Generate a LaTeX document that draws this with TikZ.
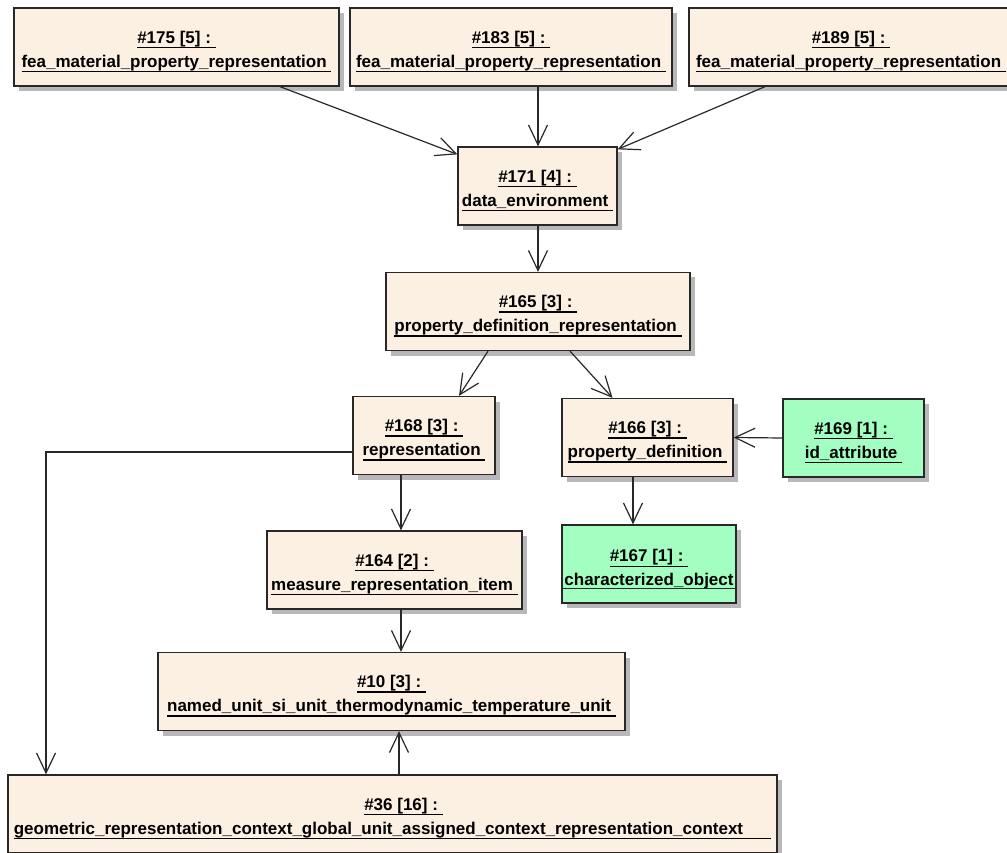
\documentclass[tikz,border=0pt]{standalone}
\usepackage{fontspec}
\setmainfont{Liberation Sans}
\usetikzlibrary{arrows.meta,shadows}
\definecolor{beige}{RGB}{251,240,226}
\definecolor{mint}{RGB}{163,255,193}
\definecolor{edge}{RGB}{40,40,40}
\newcommand\myul[1]{\setbox0\hbox{#1}\leavevmode\rlap{\rule[-5pt]{\wd0}{1.3pt}}\box0}
\tikzset{
  objbox/.style={draw=edge, line width=1.3pt, fill=beige, rectangle, inner sep=0pt,
    minimum height=78pt,
    drop shadow={shadow xshift=5pt, shadow yshift=-5pt, fill=black!28, opacity=1}},
  leafbox/.style={objbox, fill=mint},
  objtext/.style={inner sep=0pt, align=center, font=\fontsize{17}{24}\selectfont\bfseries},
  conn/.style={draw=edge, line width=1.2pt, -{Straight Barb[length=20pt,width=19pt,line width=1.2pt]}},
}
% style, name, x, y, width, line 1, line 2
\newcommand\objnode[7]{%
  \node[#1, minimum width=#5] (#2) at (#3,#4) {};
  \node[objtext] (#2t) at ([yshift=-4.5pt]#2.center) {\myul{#6\ }\\\myul{#7\ }};}
\begin{document}
\begin{tikzpicture}[x=1pt,y=-1pt]
\useasboundingbox[fill=white] (0,0) rectangle (1007,853);
\objnode{objbox}{n175}{176.5}{47}{325pt}{\#175 [5] :}{fea\_material\_property\_representation}
\objnode{objbox}{n183}{511}{47}{322pt}{\#183 [5] :}{fea\_material\_property\_representation}
\objnode{objbox}{n189}{851}{47}{324pt}{\#189 [5] :}{fea\_material\_property\_representation}
\objnode{objbox}{n171}{537.5}{186}{159pt}{\#171 [4] :}{data\_environment}
\objnode{objbox}{n165}{538}{311.5}{304pt}{\#165 [3] :}{property\_definition\_representation}
\objnode{objbox}{n168}{424}{435.5}{142pt}{\#168 [3] :}{representation}
\objnode{objbox}{n166}{647.5}{437.5}{171pt}{\#166 [3] :}{property\_definition}
\objnode{leafbox}{n169}{853.5}{438}{141pt}{\#169 [1] :}{id\_attribute}
\node[leafbox, minimum width=174pt] (n167) at (649,564) {};
\node[objtext] (n167t) at ([yshift=-5.5pt]n167.center) {\myul{\#167 [1] :\ }\\characterized\_object};
\draw[edge, line width=1.3pt] ([yshift=15pt]n167.south west) -- ([yshift=15pt]n167.south east);
\objnode{objbox}{n164}{394.5}{570}{255pt}{\#164 [2] :}{measure\_representation\_item}
\objnode{objbox}{n10}{391.5}{691.5}{467pt}{\#10 [3] :}{named\_unit\_si\_unit\_thermodynamic\_temperature\_unit}
\node[objbox, minimum width=769pt] (n36) at (392.5,814) {};
\node[objtext] (n36t) at ([yshift=-4.5pt]n36.center) {\hspace*{22pt}\myul{\#36 [16] :\ }\\\myul{geometric\_representation\_context\_global\_unit\_assigned\_context\_representation\_context\hspace*{28pt}}};
\coordinate (bend) at (46,452);
% connectors
\draw[conn] ([xshift=103.5pt]n175.south) -- ([yshift=-8pt]n171.north west);
\draw[conn] ([xshift=27pt]n183.south) -- ([xshift=0.5pt]n171.north);
\draw[conn] ([xshift=-86pt]n189.south) -- ([yshift=-3pt]n171.north east);
\draw[conn] ([xshift=0.5pt]n171.south) -- (n165.north);
\draw[conn] ([xshift=-50pt]n165.south) -- ([xshift=35pt]n168.north);
\draw[conn] ([xshift=32pt]n165.south) -- ([xshift=-35pt]n166.north);
\draw[conn] (n169.west) -- (n166.east);
\draw[conn] ([xshift=-14.5pt]n166.south) -- ([xshift=-16pt]n167.north);
\draw[conn] ([xshift=-23pt]n168.south) -- ([xshift=6.5pt]n164.north);
\draw[conn] ([xshift=6.5pt]n164.south) -- ([xshift=9.5pt]n10.north);
\draw[conn] ([xshift=6.5pt]n36.north) -- ([xshift=7.5pt]n10.south);
\draw[conn] ([yshift=-16.5pt]n168.west) -- (bend) -- (bend |- n36.north);
\end{tikzpicture}
\end{document}
